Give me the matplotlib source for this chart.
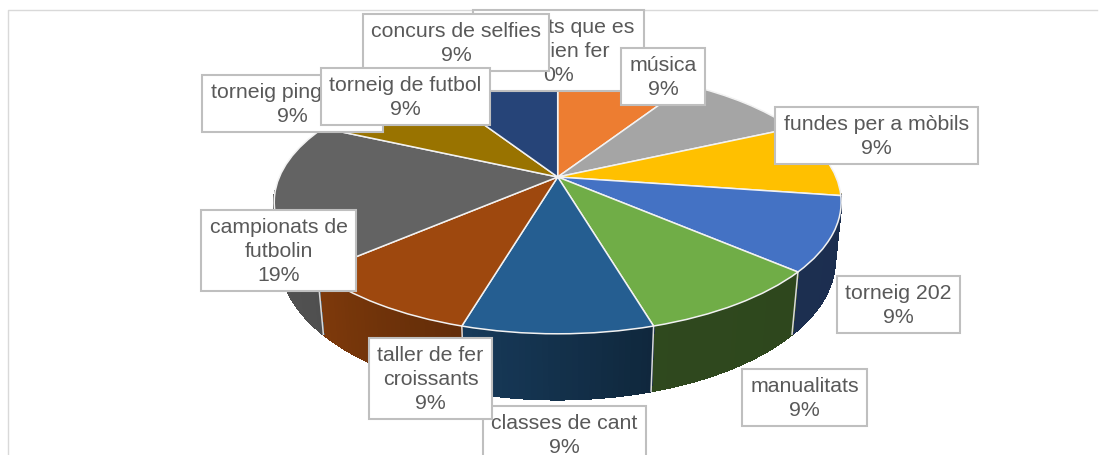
import numpy as np
import matplotlib
matplotlib.use("Agg")
import matplotlib.pyplot as plt
from matplotlib.collections import PolyCollection
from matplotlib.colors import to_rgb
from matplotlib.patches import Rectangle
from matplotlib.transforms import Transform

# ---- data, in the reference's series order (clockwise from 12 o'clock)
categories = ["activitats que es\npodrien fer", "música", "torneig ping pong",
              "fundes per a mòbils", "torneig 202", "manualitats", "classes de cant",
              "taller de fer\ncroissants", "campionats de\nfutbolin", "torneig de futbol",
              "concurs de selfies"]
slice_sizes = [0, 1, 1, 1, 1, 1, 1, 1, 2, 1, 1]
percent_labels = ["0%", "9%", "9%", "9%", "9%", "9%", "9%", "9%", "19%", "9%", "9%"]
colors = ["#5B9BD5", "#ED7D31", "#A5A5A5", "#FFC000", "#4472C4", "#70AD47",
          "#255E91", "#9E480E", "#636363", "#997300", "#264478"]

# ---- layout: label boxes in pixels (left, top, right, bottom), by category index
label_boxes = {0: (473, 10, 644, 91), 1: (621, 48, 705, 105), 2: (202, 75, 383, 132),
               3: (775, 107, 978, 164), 4: (837, 276, 960, 333), 5: (742, 369, 867, 426),
               6: (483, 406, 646, 463), 7: (369, 338, 492, 419), 8: (201, 210, 356, 291),
               9: (321, 68, 490, 125), 10: (363, 14, 549, 71)}
label_order = [0, 1, 2, 3, 4, 5, 6, 7, 8, 10, 9]

CX, CY, A, B, K, M, H = 557.7, 177.0, 278.3, 127.0, 0.19, 0.022, 58.0


class TiltedDisc(Transform):
    """Perspective view of a flat pie, z=0 top face and z=1 bottom face."""
    input_dims = output_dims = 2
    has_inverse = False

    def __init__(self, z):
        super().__init__()
        self.z = z

    def transform_non_affine(self, xy):
        xy = np.asarray(xy, float)
        w = 1 + K * xy[:, 1] + M * self.z
        return np.column_stack((CX + A * xy[:, 0] / w,
                                CY + (-B * xy[:, 1] + H * self.z) / w))


def wall_shade(phi):
    clockwise = (90 - phi) % 360
    return np.interp(clockwise, [90, 164, 196, 229, 270], [0.40, 0.42, 0.62, 0.80, 0.87])


plt.rcParams["font.family"] = ["Liberation Sans", "DejaVu Sans"]
fig = plt.figure(figsize=(11, 4.55), dpi=100, facecolor="white")
ax = fig.add_axes([0, 0, 1, 1])

top, bottom = TiltedDisc(0), TiltedDisc(1)
wedges, _ = ax.pie(slice_sizes, colors=colors, startangle=90, counterclock=False, radius=1,
                   wedgeprops=dict(edgecolor="#F2F2F2", linewidth=1.1))
for w in wedges:
    w.set_transform(top + ax.transData)
    w.set_zorder(3)

# Side wall: taken from each wedge's angular span, front-facing part only
for w, col in zip(wedges, colors):
    if w.theta2 - w.theta1 <= 0:
        continue
    phis = np.arange(w.theta1, w.theta2 + 1.0, 1.0)
    phis[-1] = w.theta2
    polys, faces = [], []
    for p0, p1 in zip(phis[:-1], phis[1:]):
        if np.sin(np.radians((p0 + p1) / 2)) > -0.12:
            continue
        rim = np.radians([p0, p1])
        ring = np.column_stack((np.cos(rim), np.sin(rim)))
        polys.append(np.vstack((top.transform(ring), bottom.transform(ring)[::-1])))
        faces.append(np.array(to_rgb(col)) * wall_shade((p0 + p1) / 2))
    if polys:
        ax.add_collection(PolyCollection(polys, facecolors=faces, edgecolors=faces,
                                         linewidths=1.0, antialiaseds=False, zorder=1))
    edge = np.radians(w.theta1)
    ring = np.array([[np.cos(edge), np.sin(edge)]])
    seg = np.vstack((top.transform(ring), bottom.transform(ring)))
    if ring[0, 1] < -0.2:
        ax.plot(seg[:, 0], seg[:, 1], color="#D9D9D9", lw=1.1, zorder=2)

ax.set_aspect("auto")
ax.set_xlim(0, 1100)
ax.set_ylim(455, 0)
ax.axis("off")

# Chart frame
ax.plot([1097, 7.5, 7.5], [9.5, 9.5, 455], color="#D9D9D9", lw=1.0, zorder=2, clip_on=False)

# Data labels
for n, i in enumerate(label_order):
    x0, y0, x1, y1 = label_boxes[i]
    z = 5 + n * 0.1
    ax.add_patch(Rectangle((x0, y0), x1 - x0, y1 - y0, facecolor="white",
                           edgecolor="#BFBFBF", linewidth=1.5, zorder=z))
    ax.text((x0 + x1) / 2, (y0 + y1) / 2 + 1.0, categories[i] + "\n" + percent_labels[i],
            ha="center", va="center", ma="center", fontsize=15.35, color="#595959",
            linespacing=1.34, zorder=z + 0.05)

fig.savefig("out.png", dpi=100)
